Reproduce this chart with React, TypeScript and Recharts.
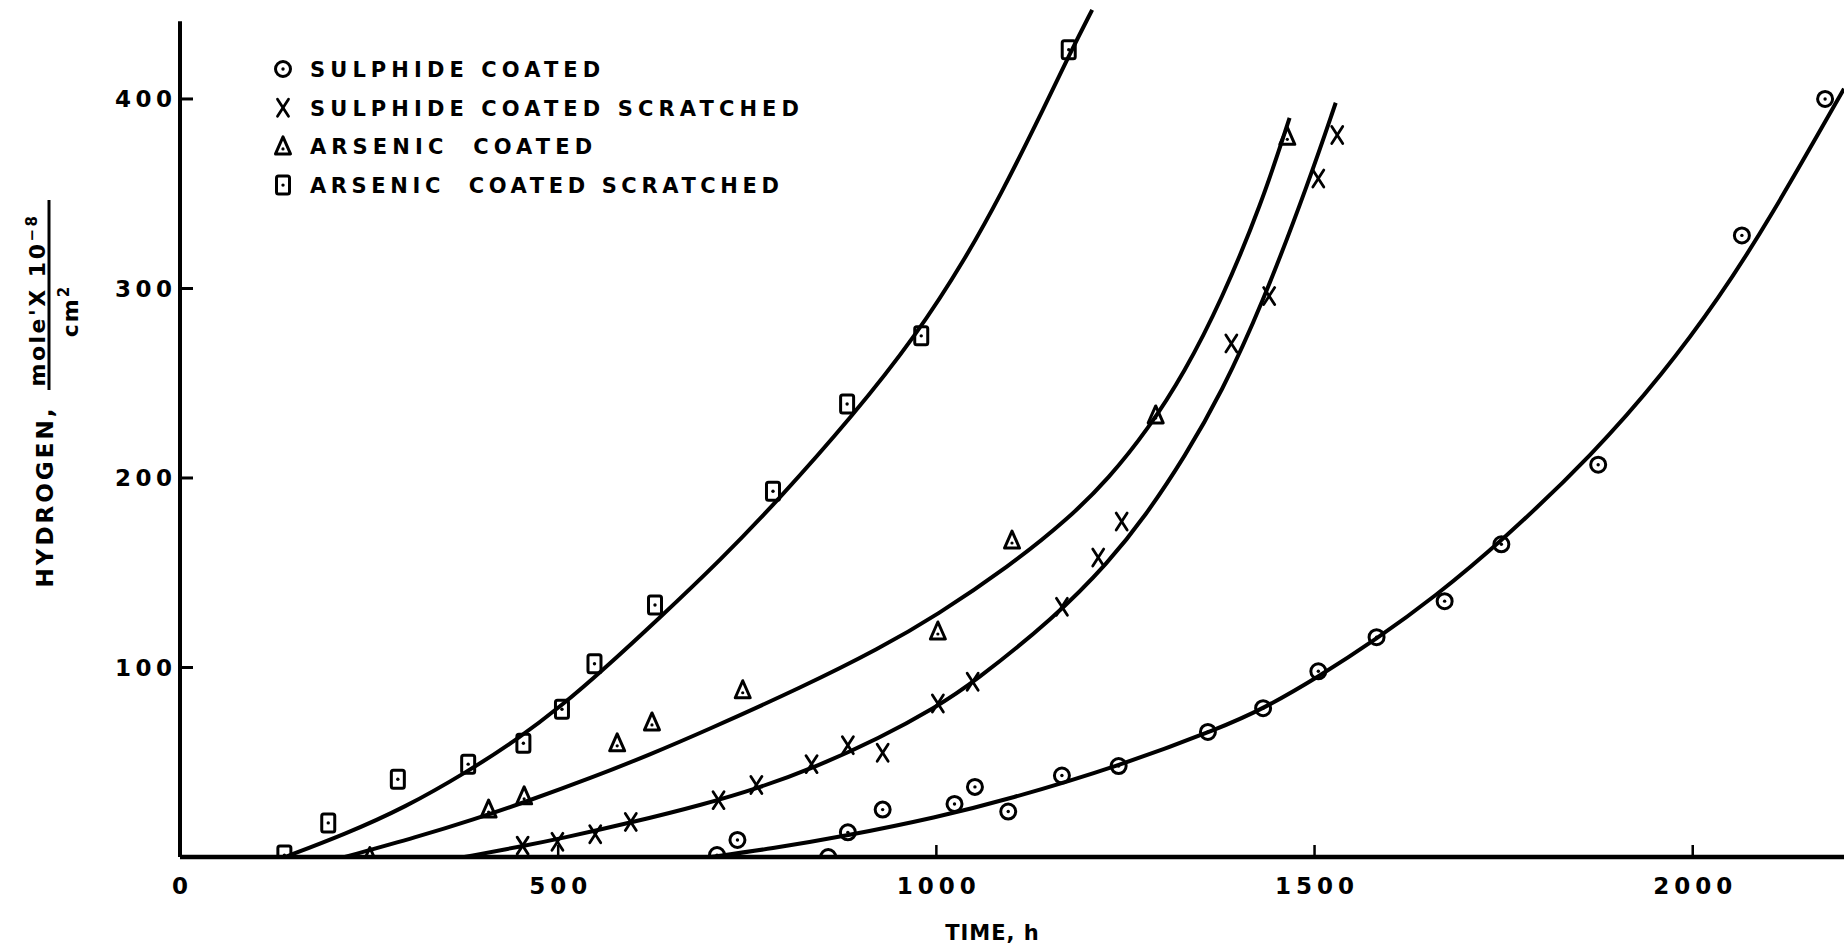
import React from 'react';
import { ComposedChart, Line, Scatter, XAxis, YAxis, ReferenceLine, Legend } from 'recharts';

const W = 1848;
const H = 952;
const FONT = '"DejaVu Sans", "Open Sans", sans-serif';
const PLOT_BOTTOM = 857;

// ---- observed points (time h, hydrogen mole x 1e-8 / cm2) ----
const sulphideCoatedX = [710, 737, 857, 883, 929, 1024, 1051, 1095, 1166, 1241, 1359, 1432, 1505, 1582, 1672, 1747, 1875, 2065, 2175];
const sulphideCoatedY = [1, 9, 0, 13, 25, 28, 37, 24, 43, 48, 66, 78.5, 98, 116, 135, 165, 207, 328, 400];

const sulphideScratchedX = [453, 499, 549, 596, 712, 762, 835, 883, 929, 1002, 1048, 1166, 1214, 1245, 1390, 1440, 1505, 1530];
const sulphideScratchedY = [6, 8, 12, 18.5, 30, 38, 49, 59, 55, 81, 92.5, 132, 158, 177, 271, 296, 358, 381];

const arsenicCoatedX = [251, 408, 455, 578, 624, 744, 1002, 1100, 1290, 1464];
const arsenicCoatedY = [0, 25, 32, 60, 71, 88, 119, 167, 233, 380];

const arsenicScratchedX = [138, 196, 288, 381, 454, 505, 548, 628, 784, 882, 980, 1175];
const arsenicScratchedY = [1, 18, 41, 49, 60, 78, 102, 133, 193, 239, 275, 426];

// ---- fitted curves ----
const arsenicScratchedCurveX = [139, 218, 297, 380, 446, 508, 556, 635, 714, 789, 890, 973, 1039, 1087, 1131, 1179, 1206];
const arsenicScratchedCurveY = [0, 12, 26, 45, 62, 81, 97.5, 126.5, 156.5, 187.5, 233, 275, 316, 351, 386, 426, 447];

const arsenicCoatedCurveX = [218, 315, 389, 455, 547, 622, 692, 824, 925, 1000, 1096, 1175, 1228, 1280, 1328, 1377, 1430, 1467];
const arsenicCoatedCurveY = [0, 10.7, 19.9, 28.8, 42.2, 54.2, 66.1, 89.9, 110.1, 127.4, 153.3, 178.6, 199.8, 225.8, 255.6, 293.8, 344.7, 390];

const sulphideScratchedCurveX = [376, 455, 503, 596, 692, 767, 837, 925, 1000, 1048, 1157, 1228, 1276, 1329, 1377, 1430, 1493, 1528];
const sulphideScratchedCurveY = [0, 5.9, 9.7, 18.1, 27.7, 36.7, 46.9, 62.7, 79.2, 91.7, 126.6, 155.7, 179.7, 211.5, 245.1, 290.7, 356.9, 398];

const sulphideCoatedCurveX = [701, 780, 883, 1000, 1094, 1241, 1377, 1432, 1505, 1582, 1658, 1747, 1869, 1961, 2035, 2100, 2200];
const sulphideCoatedCurveY = [0, 4.3, 11.3, 20.9, 30.3, 47.9, 68.3, 78.2, 95, 115, 137, 166.4, 212.8, 255.1, 295.1, 335.4, 405.4];

const xTicks = [0, 500, 1000, 1500, 2000];
const yTicks = [100, 200, 300, 400];
const xDomain = [0, 2200];
const yDomain = [0, 448];
const yAxisTop = 441;

const legendLabels = [
  'SULPHIDE COATED',
  'SULPHIDE COATED SCRATCHED',
  'ARSENIC  COATED',
  'ARSENIC  COATED SCRATCHED',
];
const legendKinds = ['circle', 'cross', 'triangle', 'square'];
const legendSpacing = [5.1, 5.1, 5.1, 4.6];

const zip = (xs: number[], ys: number[]) => xs.map((x, i) => ({ x, y: ys[i] }));

function Marker({ kind, cx, cy }: { kind: string; cx: number; cy: number }) {
  const sw = 3;
  if (cx == null || cy == null) return null;
  switch (kind) {
    case 'circle':
      return (
        <g>
          <circle cx={cx} cy={cy} r={7.5} fill="none" stroke="#000" strokeWidth={sw} />
          <circle cx={cx} cy={cy} r={1.7} fill="#000" />
        </g>
      );
    case 'cross':
      return (
        <g stroke="#000" strokeWidth={2.8} strokeLinecap="round">
          <line x1={cx - 5.5} y1={cy - 8.5} x2={cx + 5.5} y2={cy + 8.5} />
          <line x1={cx + 5.5} y1={cy - 8.5} x2={cx - 5.5} y2={cy + 8.5} />
        </g>
      );
    case 'triangle':
      return (
        <g>
          <path
            d={`M${cx},${cy - 9.5} L${cx + 7.5},${cy + 7.5} L${cx - 7.5},${cy + 7.5} Z`}
            fill="none"
            stroke="#000"
            strokeWidth={sw}
            strokeLinejoin="round"
          />
          <circle cx={cx} cy={cy + 2.5} r={1.6} fill="#000" />
        </g>
      );
    case 'square':
      return (
        <g>
          <rect x={cx - 6.5} y={cy - 9} width={13} height={18} rx={2} fill="none" stroke="#000" strokeWidth={sw} />
          <circle cx={cx} cy={cy} r={1.7} fill="#000" />
        </g>
      );
    default:
      return null;
  }
}

const renderXTick = (p: any) => {
  const cx = p.payload && p.payload.coordinate != null ? p.payload.coordinate : p.x;
  return (
    <text x={cx} y={PLOT_BOTTOM + 37} dx={2.5} textAnchor="middle" fontFamily={FONT} fontWeight="bold" fontSize={23} letterSpacing={5} fill="#000">
      {p.payload.value}
    </text>
  );
};

const renderYTick = (p: any) => {
  const cy = p.payload && p.payload.coordinate != null ? p.payload.coordinate : p.y;
  return (
    <text x={172} y={cy + 8.5} dx={4.5} textAnchor="end" fontFamily={FONT} fontWeight="bold" fontSize={23} letterSpacing={4.5} fill="#000">
      {p.payload.value}
    </text>
  );
};

const XTitle = () => (
  <text x={992} y={940} dx={0.5} textAnchor="middle" fontFamily={FONT} fontWeight="bold" fontSize={21} letterSpacing={1} fill="#000" style={{ whiteSpace: 'pre' }}>
    TIME, h
  </text>
);

const YTitle = () => (
  <g fill="#000" fontFamily={FONT} fontWeight="bold">
    <text transform="rotate(-90 53 498)" x={53} y={498} dx={1.5} textAnchor="middle" fontSize={23} letterSpacing={3}>
      HYDROGEN,
    </text>
    <text transform="rotate(-90 45 300)" x={45} y={300} textAnchor="middle" fontSize={22} letterSpacing={2.5} style={{ whiteSpace: 'pre' }}>
      {"mole'X 10"}
      <tspan dy={-8} fontSize={15}>−8</tspan>
    </text>
    <line x1={49} y1={200} x2={49} y2={390} stroke="#000" strokeWidth={3} />
    <text transform="rotate(-90 78 311)" x={78} y={311} textAnchor="middle" fontSize={22} letterSpacing={2}>
      cm
      <tspan dy={-9} fontSize={15}>2</tspan>
    </text>
  </g>
);

const renderLegend = () => (
  <svg width={580} height={160} style={{ display: 'block', overflow: 'visible' }}>
    {legendLabels.map((label, i) => {
      const cy = 19 + i * 38.7;
      return (
        <g key={label}>
          <Marker kind={legendKinds[i]} cx={23} cy={cy} />
          <text x={50} y={cy + 7.8} fontFamily={FONT} fontWeight="bold" fontSize={21} letterSpacing={legendSpacing[i]} fill="#000" style={{ whiteSpace: 'pre' }}>
            {label}
          </text>
        </g>
      );
    })}
  </svg>
);

export default function App() {
  const series = [
    { kind: 'square', pts: zip(arsenicScratchedX, arsenicScratchedY), curve: zip(arsenicScratchedCurveX, arsenicScratchedCurveY) },
    { kind: 'triangle', pts: zip(arsenicCoatedX, arsenicCoatedY), curve: zip(arsenicCoatedCurveX, arsenicCoatedCurveY) },
    { kind: 'cross', pts: zip(sulphideScratchedX, sulphideScratchedY), curve: zip(sulphideScratchedCurveX, sulphideScratchedCurveY) },
    { kind: 'circle', pts: zip(sulphideCoatedX, sulphideCoatedY), curve: zip(sulphideCoatedCurveX, sulphideCoatedCurveY) },
  ];
  return (
    <div style={{ position: 'absolute', left: 0, top: 0, width: W, height: H, background: '#fff' }}>
      <ComposedChart width={W} height={H} margin={{ top: 8, right: 4, bottom: 0, left: 100 }}>
        <XAxis
          type="number"
          dataKey="x"
          domain={xDomain}
          ticks={xTicks}
          interval={0}
          allowDataOverflow
          axisLine={{ stroke: '#000', strokeWidth: 4.5 }}
          tickLine={{ stroke: '#000', strokeWidth: 2.5 }}
          tickSize={-12}
          tick={renderXTick}
          height={95}
          label={<XTitle />}
        />
        <YAxis
          type="number"
          dataKey="y"
          domain={yDomain}
          ticks={yTicks}
          interval={0}
          allowDataOverflow
          axisLine={false}
          tickLine={{ stroke: '#000', strokeWidth: 3 }}
          tickSize={-13}
          tick={renderYTick}
          width={80}
          label={<YTitle />}
        />
        <ReferenceLine
          segment={[{ x: 0, y: 0 }, { x: 0, y: yAxisTop }]}
          stroke="#000"
          strokeWidth={4}
          ifOverflow="visible"
        />
        {series.map((s) => (
          <Line
            key={`curve-${s.kind}`}
            data={s.curve}
            dataKey="y"
            type="basis"
            stroke="#000"
            strokeWidth={4}
            dot={false}
            activeDot={false}
            isAnimationActive={false}
            legendType="none"
          />
        ))}
        {series.map((s) => (
          <Scatter
            key={`pts-${s.kind}`}
            data={s.pts}
            dataKey="y"
            isAnimationActive={false}
            legendType="none"
            shape={(p: any) => <Marker kind={s.kind} cx={p.cx} cy={p.cy} />}
          />
        ))}
        <Legend
          layout="vertical"
          align="center"
          verticalAlign="middle"
          content={renderLegend}
          wrapperStyle={{ position: 'absolute', left: 260, top: 50, width: 580, height: 160 }}
        />
      </ComposedChart>
    </div>
  );
}
